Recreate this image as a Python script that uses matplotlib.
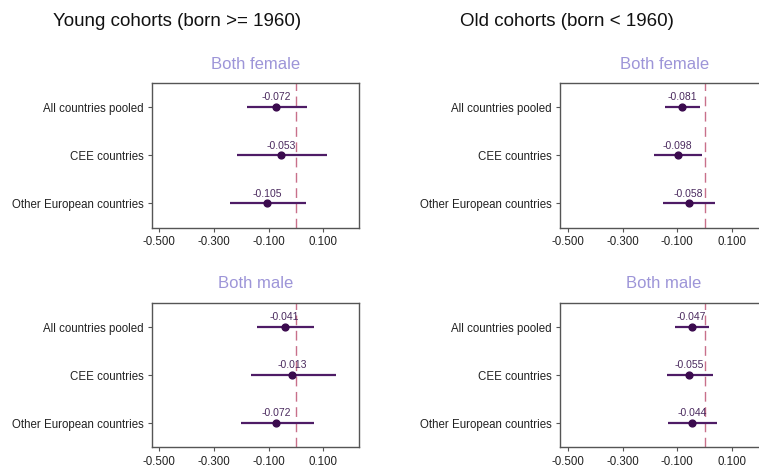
import matplotlib
matplotlib.use("Agg")
import matplotlib.pyplot as plt

plt.rcParams['font.family'] = ['Liberation Sans', 'DejaVu Sans']

groups = ["All countries pooled", "CEE countries", "Other European countries"]
xticks = [-0.5, -0.3, -0.1, 0.1]

cohort_titles = ["Young cohorts (born >= 1960)", "Old cohorts (born < 1960)"]
panel_titles = ["Both female", "Both male"]

# coefficient, lower CI, upper CI per group
young_female_est = [-0.072, -0.053, -0.105]
young_female_lo = [-0.178, -0.215, -0.240]
young_female_hi = [0.041, 0.115, 0.036]

young_male_est = [-0.041, -0.013, -0.072]
young_male_lo = [-0.142, -0.166, -0.201]
young_male_hi = [0.067, 0.148, 0.065]

old_female_est = [-0.081, -0.098, -0.058]
old_female_lo = [-0.143, -0.184, -0.152]
old_female_hi = [-0.017, -0.009, 0.038]

old_male_est = [-0.047, -0.055, -0.044]
old_male_lo = [-0.108, -0.138, -0.133]
old_male_hi = [0.016, 0.030, 0.046]

panels = [
    (0, 0, young_female_est, young_female_lo, young_female_hi),
    (1, 0, young_male_est, young_male_lo, young_male_hi),
    (0, 1, old_female_est, old_female_lo, old_female_hi),
    (1, 1, old_male_est, old_male_lo, old_male_hi),
]

fig = plt.figure(figsize=(7.59, 4.67), dpi=100)

lefts = [0.1999, 0.7382]
bottoms = [0.5128, 0.0422]
w, h = 0.2735, 0.309

point_c = "#3b0a4e"
line_c = "#4e1c66"
label_c = "#4a2a5e"
ref_c = "#c8708a"
title_c = "#9d95d8"

for row, col, est, lo, hi in panels:
    ax = fig.add_axes([lefts[col], bottoms[row], w, h])
    ys = list(range(1, len(groups) + 1))
    ax.axvline(0, color=ref_c, lw=1.0, dashes=(7, 4), zorder=1)
    ax.hlines(ys, lo, hi, color=line_c, lw=1.6, zorder=2)
    ax.scatter(est, ys, s=24, color=point_c, zorder=3)
    for e, y in zip(est, ys):
        ax.annotate(f"{e:.3f}", (e, y), xytext=(0, 3.5), textcoords="offset points",
                    ha="center", va="bottom", fontsize=7.5, color=label_c)
    ax.set_xlim(-0.528, 0.232)
    ax.set_ylim(3.5, 0.5)
    ax.set_xticks(xticks)
    ax.set_xticklabels([f"{t:.3f}" for t in xticks], fontsize=8.3, color="#222222")
    ax.set_yticks(ys)
    ax.set_yticklabels(groups, fontsize=8.3, color="#222222")
    ax.tick_params(length=3, width=0.8, color="#555555", pad=3)
    for sp in ax.spines.values():
        sp.set_color("#555555")
        sp.set_linewidth(1.0)
    ax.set_title(panel_titles[row], color=title_c, fontsize=12, pad=10.5)

fig.text(0.2333, 0.955, cohort_titles[0], ha="center", va="center", fontsize=13.5, color="#111111")
fig.text(0.7474, 0.955, cohort_titles[1], ha="center", va="center", fontsize=13.5, color="#111111")

fig.savefig("out.png", dpi=100)
